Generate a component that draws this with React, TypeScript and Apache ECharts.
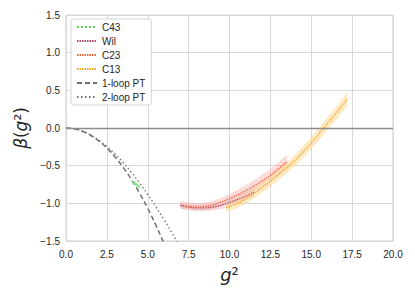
import React, { useEffect, useRef } from "react";
import * as echarts from "echarts";

// Perturbative curves
const oneLoopX = [0, 0.5, 1, 1.5, 2, 2.5, 3, 3.5, 4, 4.5, 5, 5.5, 6, 6.5];
const oneLoopY = [0, -0.011, -0.043, -0.096, -0.171, -0.267, -0.384, -0.523, -0.683, -0.865, -1.067, -1.292, -1.537, -1.8];
const twoLoopX = [0, 0.5, 1, 1.5, 2, 2.5, 3, 3.5, 4, 4.5, 5, 5.5, 6, 6.5, 7];
const twoLoopY = [0, -0.011, -0.041, -0.091, -0.159, -0.244, -0.345, -0.46, -0.589, -0.731, -0.883, -1.047, -1.22, -1.4, -1.59];

// Lattice results
const c43X = [4.1, 4.3, 4.5];
const c43Y = [-0.71, -0.75, -0.79];

const wilX = [7.0, 7.5, 8.0, 8.5, 9.0, 9.5, 10.0, 10.5, 11.0, 11.5];
const wilY = [-1.03, -1.05, -1.06, -1.06, -1.05, -1.025, -0.99, -0.95, -0.905, -0.855];
const wilErr = [0.04, 0.04, 0.04, 0.045, 0.045, 0.05, 0.05, 0.05, 0.055, 0.06];

const c23X = [7.0, 7.5, 8.0, 8.5, 9.0, 9.5, 10.0, 10.5, 11.0, 11.5, 12.0, 12.5, 13.0, 13.5];
const c23Y = [-1.02, -1.04, -1.05, -1.04, -1.02, -0.98, -0.935, -0.885, -0.83, -0.77, -0.7, -0.63, -0.54, -0.45];
const c23Err = [0.05, 0.05, 0.05, 0.05, 0.05, 0.055, 0.06, 0.065, 0.07, 0.075, 0.08, 0.085, 0.09, 0.09];

const c13X = [9.8, 10.5, 11.0, 11.5, 12.0, 12.5, 13.0, 13.5, 14.0, 14.5, 15.0, 15.5, 16.0, 16.5, 17.2];
const c13Y = [-1.06, -1.0, -0.94, -0.87, -0.79, -0.71, -0.62, -0.53, -0.43, -0.32, -0.2, -0.07, 0.06, 0.19, 0.385];
const c13Err = [0.06, 0.06, 0.065, 0.065, 0.07, 0.07, 0.07, 0.075, 0.075, 0.08, 0.08, 0.085, 0.085, 0.09, 0.09];

const FONT = "Liberation Sans";

const zip = (xs: number[], ys: number[]) => xs.map((x, i) => [x, ys[i]]);

const band = (name: string, xs: number[], ys: number[], es: number[], fill: string, opacity: number) => ({
  type: "custom",
  name: name + "-band",
  silent: true,
  z: 1,
  data: [[xs[0], ys[0]]],
  renderItem: (_params: any, api: any) => {
    const upper = xs.map((x, i) => api.coord([x, ys[i] + es[i]]));
    const lower = xs.map((x, i) => api.coord([x, ys[i] - es[i]])).reverse();
    return {
      type: "polygon",
      shape: { points: upper.concat(lower) },
      style: { fill, opacity },
    };
  },
});

const line = (name: string, xs: number[], ys: number[], color: string, type: any, width: number, z = 3) => ({
  type: "line",
  name,
  data: zip(xs, ys),
  symbol: "none",
  smooth: true,
  z,
  lineStyle: { color, type, width },
  itemStyle: { color },
});

export default function App() {
  const ref = useRef<HTMLDivElement>(null);
  useEffect(() => {
    if (!ref.current) return;
    const chart = echarts.init(ref.current, undefined, { renderer: "svg" });
    const fmt = (v: number) => v.toFixed(1).replace("-", "\u2212");
    chart.setOption({
      animation: false,
      textStyle: { fontFamily: FONT },
      grid: {
        left: 66,
        top: 15,
        width: 327,
        height: 226,
        show: true,
        borderColor: "#cccccc",
        borderWidth: 1,
        backgroundColor: "#ffffff",
      },
      legend: {
        orient: "vertical",
        left: 71,
        top: 19,
        itemWidth: 20,
        itemHeight: 10,
        itemGap: 4,
        padding: [3, 6, 3, 5],
        backgroundColor: "#ffffff",
        borderColor: "#d5d5d5",
        borderWidth: 1,
        borderRadius: 3,
        itemStyle: { opacity: 0 },
        textStyle: { fontSize: 10, color: "#262626", fontFamily: FONT },
        data: ["C43", "Wil", "C23", "C13", "1-loop PT", "2-loop PT"],
      },
      xAxis: {
        type: "value",
        min: 0,
        max: 20,
        interval: 2.5,
        name: "{i|g}²",
        nameLocation: "middle",
        nameGap: 24,
        nameTextStyle: {
          fontSize: 18,
          color: "#262626",
          fontFamily: "DejaVu Sans",
          rich: { i: { fontStyle: "italic", fontSize: 18, fontFamily: "DejaVu Sans" } },
        },
        axisLine: { show: false },
        axisTick: { show: false },
        axisLabel: { formatter: fmt, fontSize: 10, color: "#262626", margin: 8 },
        splitLine: { lineStyle: { color: "#d9d9d9", width: 1 } },
      },
      yAxis: {
        type: "value",
        min: -1.5,
        max: 1.5,
        interval: 0.5,
        name: "{i|β}({i|g}²)",
        nameLocation: "middle",
        nameGap: 32,
        nameTextStyle: {
          fontSize: 17,
          color: "#262626",
          fontFamily: "DejaVu Sans",
          rich: { i: { fontStyle: "italic", fontSize: 17, fontFamily: "DejaVu Sans" } },
        },
        axisLine: { show: false },
        axisTick: { show: false },
        axisLabel: { formatter: fmt, fontSize: 10, color: "#262626", margin: 6 },
        splitLine: { lineStyle: { color: "#d9d9d9", width: 1 } },
      },
      series: [
        band("Wil", wilX, wilY, wilErr, "#e8a2b0", 0.4),
        band("C23", c23X, c23Y, c23Err, "#f5a8a0", 0.4),
        band("C13", c13X, c13Y, c13Err, "#ffd68a", 0.5),
        line("C43", c43X, c43Y, "#55dd55", "dotted", 1, 4),
        {
          type: "line",
          name: "C43-thick",
          data: zip(c43X, c43Y),
          symbol: "none",
          z: 4,
          silent: true,
          lineStyle: { color: "#7be87b", width: 2.5, opacity: 0.8 },
        },
        line("Wil", wilX, wilY, "#b04a60", [1.5, 1], 1.2, 4),
        line("C23", c23X, c23Y, "#f0643c", [1.5, 1], 1.2, 4),
        line("C13", c13X, c13Y, "#f5a623", [1.5, 1], 1.2, 4),
        {
          ...line("1-loop PT", oneLoopX, oneLoopY, "#707070", [5, 3], 1.5, 3),
          markLine: {
            silent: true,
            symbol: "none",
            label: { show: false },
            lineStyle: { color: "#8c8c8c", type: "solid", width: 1.3 },
            data: [{ yAxis: 0 }],
          },
        },
        line("2-loop PT", twoLoopX, twoLoopY, "#707070", [1.5, 2.5], 1.3, 3),
      ],
    });
    return () => chart.dispose();
  }, []);
  return (
    <div
      ref={ref}
      style={{ position: "fixed", left: 0, top: 0, width: 415, height: 297, background: "#ffffff" }}
    />
  );
}
